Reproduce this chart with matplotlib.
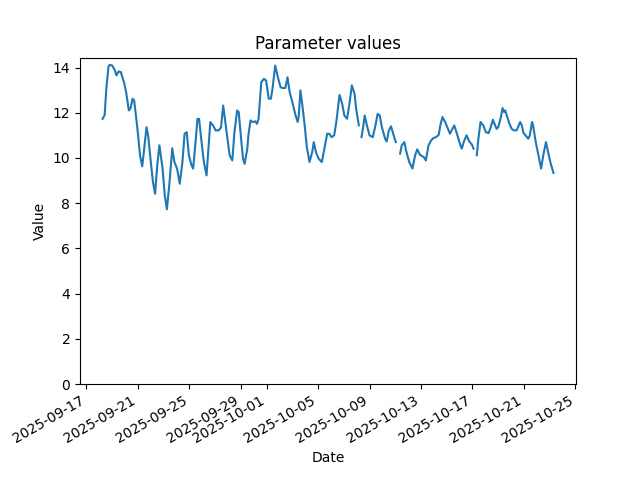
import numpy as np
import pandas as pd
import matplotlib
matplotlib.use('Agg')
import matplotlib.pyplot as plt

start = pd.Timestamp('2025-09-17 00:00')

# hours since start, value (nan = gap in the record)
hours = [30, 34, 37, 41, 43, 48, 53, 56, 60, 64, 70, 74, 79, 82, 86, 89, 95, 100, 104, 107,
         112, 115, 120, 124, 128, 132, 136, 142, 146, 150, 155, 160, 164, 169, 174, 179, 183, 187,
         191, 196, 199, 204, 207, 210, 214, 219, 224, 228, 231, 236, 241, 247, 251, 255, 259, 264,
         267, 272, 276, 281, 284, 289, 292, 295, 300, 302, 306, 310, 315, 318, 321, 326, 331, 335,
         340, 344, 347, 352, 357, 362, 366, 371, 375, 379, 384, 390, 394, 396, 399, 402, 407, 411,
         416, 421, 424, 428, 433, 439, 446, 449, 453, 457, 462, 466, 472, 477, 481, 486, 490, 495,
         500, 503, 508,
         510,
         513, 516, 519, 523, 528, 534, 539, 543, 547, 551, 557, 560, 564, 568, 573, 577,
         581,
         585, 588, 593, 596, 602, 608, 613, 617, 622, 629, 633, 638, 643, 647, 652, 657, 660, 664,
         669, 673, 678, 681, 686, 691, 696, 700, 704, 709, 714, 719, 722,
         725,
         728, 731, 735, 740, 745, 750, 754, 758, 761, 765, 768, 773, 776, 779, 781, 784, 789, 793,
         797, 802, 805, 809, 812, 815, 819, 824, 827, 831, 833, 838, 843, 848, 852, 857, 861, 866,
         871]

values = [11.73, 11.9, 13.06, 14.02, 14.12, 14.09, 13.87, 13.65, 13.83, 13.8, 13.35, 12.91, 12.1,
          12.18, 12.62, 12.54, 11.3, 10.1, 9.63, 10.26, 11.36, 11.0, 9.82, 8.94, 8.42, 9.67, 10.56,
          9.53, 8.35, 7.73, 8.94, 10.43, 9.82, 9.53, 8.86, 9.82, 11.07, 11.14, 10.12, 9.67, 9.53,
          10.85, 11.73, 11.73, 10.85, 9.82, 9.23, 10.56, 11.59, 11.44, 11.22, 11.22, 11.36, 12.32,
          11.59, 10.7, 10.12, 9.89, 11.14, 12.1, 12.03, 10.7, 9.97, 9.74, 10.41, 11.0, 11.66, 11.59,
          11.62, 11.51, 11.73, 13.35, 13.5, 13.43, 12.62, 12.62, 13.06, 14.09, 13.57, 13.13, 13.09,
          13.1, 13.57, 12.91, 12.47, 11.88, 11.59, 11.88, 12.99, 12.47, 11.44, 10.48, 9.82, 10.26,
          10.7, 10.26, 9.97, 9.82, 10.7, 11.07, 11.07, 10.92, 11.0, 11.59, 12.79, 12.39, 11.88,
          11.73, 12.32, 13.21, 12.84, 12.18, 11.44,
          np.nan,
          10.92, 11.36, 11.88, 11.44, 11.0, 10.92, 11.44, 11.95, 11.88, 11.36, 10.85, 10.73, 11.22,
          11.4, 11.0, 10.7,
          np.nan,
          10.19, 10.56, 10.7, 10.34, 9.82, 9.53, 10.12, 10.38, 10.14, 10.04, 9.89, 10.56, 10.78,
          10.88, 10.92, 11.02, 11.44, 11.81, 11.59, 11.36, 11.07, 11.22, 11.44, 11.07, 10.67, 10.41,
          10.73, 11.0, 10.73, 10.59, 10.41,
          np.nan,
          10.12, 10.85, 11.59, 11.44, 11.14, 11.1, 11.36, 11.69, 11.51, 11.29, 11.36, 11.81, 12.21,
          12.03, 12.1, 11.88, 11.51, 11.29, 11.22, 11.22, 11.36, 11.59, 11.44, 11.11, 11.0, 10.85,
          11.0, 11.59, 11.44, 10.7, 10.12, 9.53, 10.12, 10.7, 10.26, 9.74, 9.34]

dates = start + pd.to_timedelta(hours, unit='h')

fig, ax = plt.subplots(figsize=(6.4, 4.8), dpi=100)
ax.plot(dates, values)
ax.set_ylim(bottom=0)
ax.set_title('Parameter values')
ax.set_xlabel('Date')
ax.set_ylabel('Value')
fig.autofmt_xdate()

plt.savefig('out.png', dpi=100)
